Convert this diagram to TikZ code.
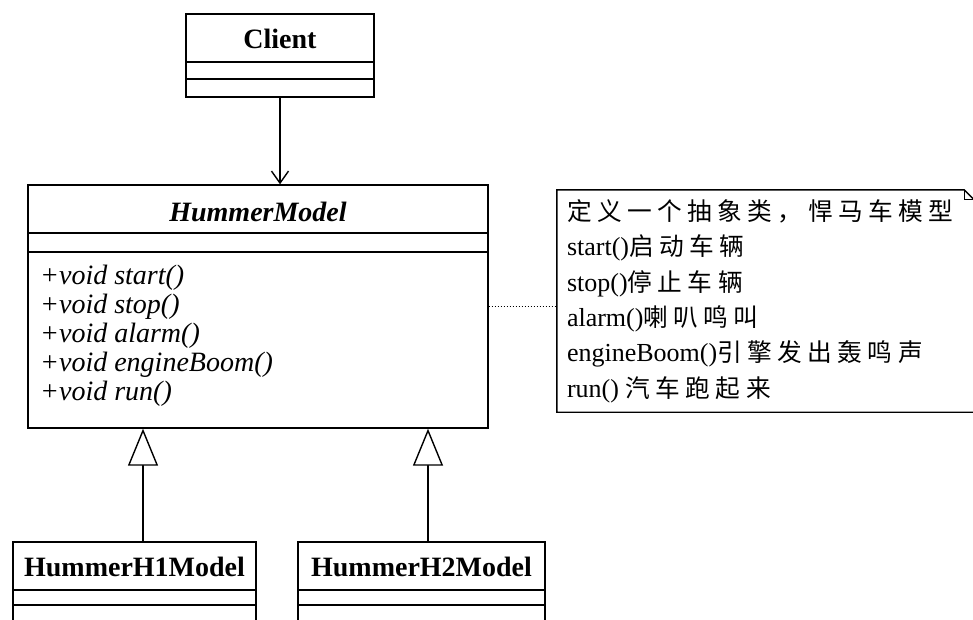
\documentclass[tikz,border=0pt]{standalone}
\usepackage{fontspec}
\setmainfont{Liberation Serif}
\newfontfamily\cjk[Scale=0.95,LetterSpace=22]{Noto Sans CJK SC}
\usetikzlibrary{arrows.meta}
\tikzset{
  classbox/.style={draw, line width=1.4pt, inner sep=0pt},
  classname/.style={font=\fontsize{28}{30}\selectfont\bfseries},
  method/.style={font=\fontsize{28}{30}\selectfont\itshape, anchor=west, inner sep=0pt},
  uses/.style={line width=1.4pt, -{Straight Barb[length=12pt,width=17pt]}},
  inherit/.style={line width=1.4pt, -{Triangle[open,length=37pt,width=30pt,fill=white]}},
}
\begin{document}
\begin{tikzpicture}[x=1pt,y=-1pt]
\useasboundingbox (0,0) rectangle (973,619);
% Client
\node[classbox, minimum width=188pt, minimum height=83pt] (client) at (280,55.5) {};
\node[classname] (clientname) at (280,39) {Client};
\draw[line width=1.4pt] (client.west |- 0,62) -- (client.east |- 0,62);
\draw[line width=1.4pt] (client.west |- 0,79) -- (client.east |- 0,79);
% HummerModel
\node[classbox, minimum width=460pt, minimum height=243pt] (hummer) at (258,306.5) {};
\node[font=\fontsize{28}{30}\selectfont\bfseries\itshape] (hummername) at (258,212) {HummerModel};
\draw[line width=1.4pt] (hummer.west |- 0,233) -- (hummer.east |- 0,233);
\draw[line width=1.4pt] (hummer.west |- 0,252) -- (hummer.east |- 0,252);
\foreach \m [count=\i from 0] in {start,stop,alarm,engineBoom,run}
  \node[method] (m\m) at (40,278+29*\i) {+void \m()};
\draw[uses] (client.south) -- (client.south |- hummer.north);
% note
\node[minimum width=417pt, minimum height=222pt, inner sep=0pt] (note) at (765.5,301) {};
\draw[line width=1.4pt] (note.south east) -- (note.south west) -- (note.north west)
  -- ([xshift=-10pt]note.north east) -- ([yshift=-10pt]note.north east) -- cycle;
\draw[line width=1pt] ([xshift=-10pt]note.north east) |- ([yshift=-10pt]note.north east);
\node[anchor=west, align=left, inner sep=0pt, font=\fontsize{26}{35.4}\selectfont] (notetext)
  at ([xshift=10pt]note.west) {{\cjk 定义一个抽象类，悍马车模型}\\
  start(){\cjk 启动车辆}\\
  stop(){\cjk 停止车辆}\\
  alarm(){\cjk 喇叭鸣叫}\\
  engineBoom(){\cjk 引擎发出轰鸣声}\\
  run() {\cjk 汽车跑起来}};
\draw[dotted, line width=1pt] (hummer.east) -- (hummer.east -| note.west);
% subclasses
\node[classbox, minimum width=243pt, minimum height=100pt] (h1) at (134.5,592) {};
\node[classname] (h1name) at (134.5,567) {HummerH1Model};
\draw[line width=1.4pt] (h1.west |- 0,590) -- (h1.east |- 0,590);
\draw[line width=1.4pt] (h1.west |- 0,605) -- (h1.east |- 0,605);
\node[classbox, minimum width=247pt, minimum height=100pt] (h2) at (421.5,592) {};
\node[classname] (h2name) at (421.5,567) {HummerH2Model};
\draw[line width=1.4pt] (h2.west |- 0,590) -- (h2.east |- 0,590);
\draw[line width=1.4pt] (h2.west |- 0,605) -- (h2.east |- 0,605);
\draw[inherit] ([xshift=8.5pt]h1.north) -- ([xshift=8.5pt]h1.north |- hummer.south);
\draw[inherit] ([xshift=6.5pt]h2.north) -- ([xshift=6.5pt]h2.north |- hummer.south);
\end{tikzpicture}
\end{document}
